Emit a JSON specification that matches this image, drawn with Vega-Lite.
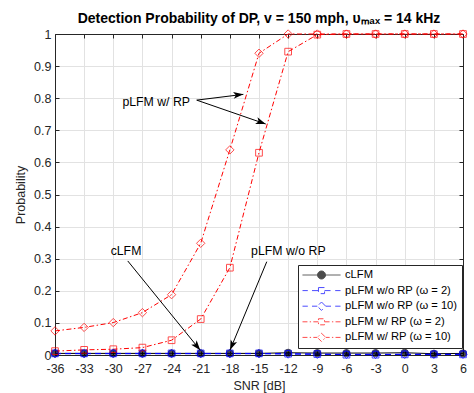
{
  "$schema": "https://vega.github.io/schema/vega-lite/v6.json",
  "width": 408,
  "height": 321,
  "autosize": {"type": "none"},
  "padding": {"left": 55, "top": 34, "right": 11, "bottom": 38},
  "background": "white",
  "title": {"text": "Detection Probability of DP, v = 150 mph, υₘₐₓ = 14 kHz", "font": "Liberation Sans", "fontSize": 14, "fontWeight": "bold", "color": "black", "offset": 2, "anchor": "middle", "frame": "group"},
  "config": {
    "view": {"stroke": null},
    "font": "Liberation Sans"
  },
  "datasets": {
    "curves": [
      {"snr": -36, "p": 0.005, "series": "cLFM"}, {"snr": -33, "p": 0.005, "series": "cLFM"}, {"snr": -30, "p": 0.005, "series": "cLFM"}, {"snr": -27, "p": 0.005, "series": "cLFM"}, {"snr": -24, "p": 0.005, "series": "cLFM"}, {"snr": -21, "p": 0.005, "series": "cLFM"}, {"snr": -18, "p": 0.005, "series": "cLFM"}, {"snr": -15, "p": 0.005, "series": "cLFM"}, {"snr": -12, "p": 0.007, "series": "cLFM"}, {"snr": -9, "p": 0.006, "series": "cLFM"}, {"snr": -6, "p": 0.006, "series": "cLFM"}, {"snr": -3, "p": 0.006, "series": "cLFM"}, {"snr": 0, "p": 0.007, "series": "cLFM"}, {"snr": 3, "p": 0.004, "series": "cLFM"}, {"snr": 6, "p": 0.005, "series": "cLFM"},
      {"snr": -36, "p": 0.005, "series": "pLFM w/o RP (ω = 2)"}, {"snr": -33, "p": 0.005, "series": "pLFM w/o RP (ω = 2)"}, {"snr": -30, "p": 0.005, "series": "pLFM w/o RP (ω = 2)"}, {"snr": -27, "p": 0.005, "series": "pLFM w/o RP (ω = 2)"}, {"snr": -24, "p": 0.005, "series": "pLFM w/o RP (ω = 2)"}, {"snr": -21, "p": 0.005, "series": "pLFM w/o RP (ω = 2)"}, {"snr": -18, "p": 0.005, "series": "pLFM w/o RP (ω = 2)"}, {"snr": -15, "p": 0.005, "series": "pLFM w/o RP (ω = 2)"}, {"snr": -12, "p": 0.004, "series": "pLFM w/o RP (ω = 2)"}, {"snr": -9, "p": 0.003, "series": "pLFM w/o RP (ω = 2)"}, {"snr": -6, "p": 0.001, "series": "pLFM w/o RP (ω = 2)"}, {"snr": -3, "p": 0.001, "series": "pLFM w/o RP (ω = 2)"}, {"snr": 0, "p": 0.002, "series": "pLFM w/o RP (ω = 2)"}, {"snr": 3, "p": 0.002, "series": "pLFM w/o RP (ω = 2)"}, {"snr": 6, "p": 0.002, "series": "pLFM w/o RP (ω = 2)"},
      {"snr": -36, "p": 0.004, "series": "pLFM w/o RP (ω = 10)"}, {"snr": -33, "p": 0.004, "series": "pLFM w/o RP (ω = 10)"}, {"snr": -30, "p": 0.004, "series": "pLFM w/o RP (ω = 10)"}, {"snr": -27, "p": 0.004, "series": "pLFM w/o RP (ω = 10)"}, {"snr": -24, "p": 0.004, "series": "pLFM w/o RP (ω = 10)"}, {"snr": -21, "p": 0.004, "series": "pLFM w/o RP (ω = 10)"}, {"snr": -18, "p": 0.004, "series": "pLFM w/o RP (ω = 10)"}, {"snr": -15, "p": 0.004, "series": "pLFM w/o RP (ω = 10)"}, {"snr": -12, "p": 0.003, "series": "pLFM w/o RP (ω = 10)"}, {"snr": -9, "p": 0.002, "series": "pLFM w/o RP (ω = 10)"}, {"snr": -6, "p": 0.002, "series": "pLFM w/o RP (ω = 10)"}, {"snr": -3, "p": 0.002, "series": "pLFM w/o RP (ω = 10)"}, {"snr": 0, "p": 0.002, "series": "pLFM w/o RP (ω = 10)"}, {"snr": 3, "p": 0.002, "series": "pLFM w/o RP (ω = 10)"}, {"snr": 6, "p": 0.002, "series": "pLFM w/o RP (ω = 10)"},
      {"snr": -36, "p": 0.012, "series": "pLFM w/ RP (ω = 2)"}, {"snr": -33, "p": 0.016, "series": "pLFM w/ RP (ω = 2)"}, {"snr": -30, "p": 0.018, "series": "pLFM w/ RP (ω = 2)"}, {"snr": -27, "p": 0.023, "series": "pLFM w/ RP (ω = 2)"}, {"snr": -24, "p": 0.046, "series": "pLFM w/ RP (ω = 2)"}, {"snr": -21, "p": 0.112, "series": "pLFM w/ RP (ω = 2)"}, {"snr": -18, "p": 0.272, "series": "pLFM w/ RP (ω = 2)"}, {"snr": -15, "p": 0.63, "series": "pLFM w/ RP (ω = 2)"}, {"snr": -12, "p": 0.945, "series": "pLFM w/ RP (ω = 2)"}, {"snr": -9, "p": 0.998, "series": "pLFM w/ RP (ω = 2)"}, {"snr": -6, "p": 1, "series": "pLFM w/ RP (ω = 2)"}, {"snr": -3, "p": 1, "series": "pLFM w/ RP (ω = 2)"}, {"snr": 0, "p": 1, "series": "pLFM w/ RP (ω = 2)"}, {"snr": 3, "p": 1, "series": "pLFM w/ RP (ω = 2)"}, {"snr": 6, "p": 1, "series": "pLFM w/ RP (ω = 2)"},
      {"snr": -36, "p": 0.075, "series": "pLFM w/ RP (ω = 10)"}, {"snr": -33, "p": 0.086, "series": "pLFM w/ RP (ω = 10)"}, {"snr": -30, "p": 0.101, "series": "pLFM w/ RP (ω = 10)"}, {"snr": -27, "p": 0.132, "series": "pLFM w/ RP (ω = 10)"}, {"snr": -24, "p": 0.188, "series": "pLFM w/ RP (ω = 10)"}, {"snr": -21, "p": 0.348, "series": "pLFM w/ RP (ω = 10)"}, {"snr": -18, "p": 0.639, "series": "pLFM w/ RP (ω = 10)"}, {"snr": -15, "p": 0.94, "series": "pLFM w/ RP (ω = 10)"}, {"snr": -12, "p": 1, "series": "pLFM w/ RP (ω = 10)"}, {"snr": -9, "p": 1, "series": "pLFM w/ RP (ω = 10)"}, {"snr": -6, "p": 1, "series": "pLFM w/ RP (ω = 10)"}, {"snr": -3, "p": 1, "series": "pLFM w/ RP (ω = 10)"}, {"snr": 0, "p": 1, "series": "pLFM w/ RP (ω = 10)"}, {"snr": 3, "p": 1, "series": "pLFM w/ RP (ω = 10)"}, {"snr": 6, "p": 1, "series": "pLFM w/ RP (ω = 10)"}
    ],
    "arrows": [
      {"id": "a1", "x1": -21.41, "y1": 0.794, "x2": -16.61, "y2": 0.812},
      {"id": "a2", "x1": -21.41, "y1": 0.794, "x2": -14.31, "y2": 0.7196},
      {"id": "a3", "x1": -28.51, "y1": 0.293, "x2": -21.05, "y2": 0.015},
      {"id": "a4", "x1": -14.2, "y1": 0.2907, "x2": -17.98, "y2": 0.0156}
    ],
    "notes": [
      {"tx": -25.58, "ty": 0.788, "label": "pLFM w/ RP"},
      {"tx": -28.69, "ty": 0.324, "label": "cLFM"},
      {"tx": -11.98, "ty": 0.324, "label": "pLFM w/o RP"}
    ]
  },
  "layer": [
    {
      "data": {"name": "curves"},
      "mark": {"type": "line", "strokeWidth": 1},
      "encoding": {
        "x": {"field": "snr", "type": "quantitative", "scale": {"domain": [-36, 6], "nice": false, "zero": false},
          "axis": {"orient": "bottom", "values": [-36, -33, -30, -27, -24, -21, -18, -15, -12, -9, -6, -3, 0, 3, 6], "labelExpr": "'' + datum.value", "title": "SNR [dB]", "titleFont": "Liberation Sans", "titleFontSize": 12.5, "titleFontWeight": "normal", "titleColor": "#262626", "titlePadding": 5, "labelFont": "Liberation Sans", "labelFontSize": 12.5, "labelColor": "#262626", "labelPadding": 11, "labelFlush": false, "labelOverlap": false, "grid": true, "gridColor": "#e2e2e2", "gridWidth": 1, "domainColor": "#262626", "domainWidth": 1, "tickColor": "#262626", "tickSize": -4, "tickWidth": 1}},
        "y": {"field": "p", "type": "quantitative", "scale": {"domain": [0, 1], "nice": false, "zero": false},
          "axis": {"orient": "left", "values": [0, 0.1, 0.2, 0.3, 0.4, 0.5, 0.6, 0.7, 0.8, 0.9, 1], "labelExpr": "'' + datum.value", "title": "Probability", "titleFont": "Liberation Sans", "titleFontSize": 12.5, "titleFontWeight": "normal", "titleColor": "#262626", "titlePadding": 6, "labelFont": "Liberation Sans", "labelFontSize": 12.5, "labelColor": "#262626", "labelPadding": 8, "labelFlush": false, "labelOverlap": false, "grid": true, "gridColor": "#e2e2e2", "gridWidth": 1, "domainColor": "#262626", "domainWidth": 1, "tickColor": "#262626", "tickSize": -4, "tickWidth": 1}},
        "stroke": {"field": "series", "type": "nominal",
          "legend": {"orient": "none", "legendX": 243, "legendY": 231, "padding": 4, "symbolSize": 1444, "clipHeight": 12, "symbolStrokeWidth": 1, "symbolOpacity": 1, "labelFont": "Liberation Sans", "labelFontSize": 11.2, "labelColor": "black", "labelOffset": 4, "rowPadding": 3.6, "strokeColor": "#262626", "fillColor": "white", "cornerRadius": 0, "title": null, "labelLimit": 300},
          "scale": {"domain": ["cLFM", "pLFM w/o RP (ω = 2)", "pLFM w/o RP (ω = 10)", "pLFM w/ RP (ω = 2)", "pLFM w/ RP (ω = 10)"], "range": ["#000000", "#0000ff", "#0000ff", "#ff0000", "#ff0000"]}},
        "strokeDash": {"field": "series", "type": "nominal", "legend": null, "scale": {"domain": ["cLFM", "pLFM w/o RP (ω = 2)", "pLFM w/o RP (ω = 10)", "pLFM w/ RP (ω = 2)", "pLFM w/ RP (ω = 10)"], "range": [[1, 0], [6, 4], [6, 4], [5, 2.5, 1.5, 2.5], [5, 2.5, 1.5, 2.5]]}}
      }
    },
    {
      "data": {"name": "curves"},
      "transform": [{"filter": "datum.series === 'cLFM'"}],
      "mark": {"type": "point", "shape": "circle", "filled": true, "fill": "black", "size": 50, "strokeWidth": 1},
      "encoding": {
        "x": {"field": "snr", "type": "quantitative", "axis": {"orient": "top", "values": [-36, -33, -30, -27, -24, -21, -18, -15, -12, -9, -6, -3, 0, 3, 6], "labels": false, "title": null, "grid": false, "domainColor": "#262626", "domainWidth": 1, "tickColor": "#262626", "tickSize": -4, "tickWidth": 1}},
        "y": {"field": "p", "type": "quantitative", "axis": {"orient": "right", "values": [0, 0.1, 0.2, 0.3, 0.4, 0.5, 0.6, 0.7, 0.8, 0.9, 1], "labels": false, "title": null, "grid": false, "domainColor": "#262626", "domainWidth": 1, "tickColor": "#262626", "tickSize": -4, "tickWidth": 1}},
        "stroke": {"field": "series", "type": "nominal"}
      }
    },
    {
      "data": {"name": "curves"},
      "transform": [{"filter": "datum.series === 'pLFM w/o RP (ω = 2)' || datum.series === 'pLFM w/ RP (ω = 2)'"}],
      "mark": {"type": "point", "shape": "square", "filled": false, "size": 45, "strokeWidth": 1},
      "encoding": {
        "x": {"field": "snr", "type": "quantitative", "axis": null},
        "y": {"field": "p", "type": "quantitative", "axis": null},
        "stroke": {"field": "series", "type": "nominal"}
      }
    },
    {
      "data": {"name": "curves"},
      "transform": [{"filter": "datum.series === 'pLFM w/o RP (ω = 10)' || datum.series === 'pLFM w/ RP (ω = 10)'"}],
      "mark": {"type": "point", "shape": "diamond", "filled": false, "size": 70, "strokeWidth": 1},
      "encoding": {
        "x": {"field": "snr", "type": "quantitative", "axis": null},
        "y": {"field": "p", "type": "quantitative", "axis": null},
        "stroke": {"field": "series", "type": "nominal"}
      }
    },
    {
      "data": {"name": "curves"},
      "mark": {"type": "point", "size": 0, "strokeWidth": 1},
      "encoding": {
        "x": {"field": "snr", "type": "quantitative", "axis": null},
        "y": {"field": "p", "type": "quantitative", "axis": null},
        "stroke": {"field": "series", "type": "nominal"},
        "fill": {"field": "series", "type": "nominal",
          "legend": {"orient": "none", "legendX": 243, "legendY": 231, "padding": 4, "symbolSize": 1444, "clipHeight": 12, "symbolStrokeWidth": 1, "symbolOpacity": 1, "labelFont": "Liberation Sans", "labelFontSize": 11.2, "labelColor": "black", "labelOffset": 4, "rowPadding": 3.6, "strokeColor": "#262626", "fillColor": "white", "cornerRadius": 0, "title": null, "labelLimit": 300},
          "scale": {"domain": ["cLFM", "pLFM w/o RP (ω = 2)", "pLFM w/o RP (ω = 10)", "pLFM w/ RP (ω = 2)", "pLFM w/ RP (ω = 10)"], "range": ["#000000", "#ffffff", "#ffffff", "#ffffff", "#ffffff"]}},
        "shape": {"field": "series", "type": "nominal",
          "legend": {"orient": "none", "legendX": 243, "legendY": 231, "padding": 4, "symbolSize": 1444, "clipHeight": 12, "symbolStrokeWidth": 1, "symbolOpacity": 1, "labelFont": "Liberation Sans", "labelFontSize": 11.2, "labelColor": "black", "labelOffset": 4, "rowPadding": 3.6, "strokeColor": "#262626", "fillColor": "white", "cornerRadius": 0, "title": null, "labelLimit": 300},
          "scale": {"domain": ["cLFM", "pLFM w/o RP (ω = 2)", "pLFM w/o RP (ω = 10)", "pLFM w/ RP (ω = 2)", "pLFM w/ RP (ω = 10)"], "range": [
          "M-1,0H1M0.21,0A0.21,0.21,0,1,1,-0.21,0A0.21,0.21,0,1,1,0.21,0Z",
          "M-1,0H-0.72M-0.5,0H-0.16M0.16,0H0.5M0.72,0H1M-0.16,-0.16H0.16V0.16H-0.16Z",
          "M-1,0H-0.72M-0.5,0H-0.22M0.22,0H0.5M0.72,0H1M0,-0.22L0.22,0L0,0.22L-0.22,0Z",
          "M-1,0H-0.74M-0.62,0H-0.55M-0.43,0H-0.16M0.16,0H0.43M0.55,0H0.62M0.74,0H1M-0.16,-0.16H0.16V0.16H-0.16Z",
          "M-1,0H-0.74M-0.62,0H-0.55M-0.43,0H-0.22M0.22,0H0.43M0.55,0H0.62M0.74,0H1M0,-0.22L0.22,0L0,0.22L-0.22,0Z"
        ]}}
      }
    },
    {
      "data": {"name": "arrows"},
      "mark": {"type": "rule", "color": "black", "strokeWidth": 1},
      "encoding": {
        "x": {"field": "x1", "type": "quantitative", "axis": null},
        "y": {"field": "y1", "type": "quantitative", "axis": null},
        "x2": {"field": "x2"},
        "y2": {"field": "y2"}
      }
    },
    {
      "data": {"name": "arrows"},
      "transform": [{"filter": "datum.id === 'a1'"}],
      "mark": {"type": "point", "shape": "M0,0L-0.7,2L0,1.5L0.7,2Z", "size": 100, "filled": true, "color": "black", "opacity": 1, "angle": 84},
      "encoding": {"x": {"field": "x2", "type": "quantitative", "axis": null}, "y": {"field": "y2", "type": "quantitative", "axis": null}}
    },
    {
      "data": {"name": "arrows"},
      "transform": [{"filter": "datum.id === 'a2'"}],
      "mark": {"type": "point", "shape": "M0,0L-0.7,2L0,1.5L0.7,2Z", "size": 100, "filled": true, "color": "black", "opacity": 1, "angle": 109.7},
      "encoding": {"x": {"field": "x2", "type": "quantitative", "axis": null}, "y": {"field": "y2", "type": "quantitative", "axis": null}}
    },
    {
      "data": {"name": "arrows"},
      "transform": [{"filter": "datum.id === 'a3'"}],
      "mark": {"type": "point", "shape": "M0,0L-0.7,2L0,1.5L0.7,2Z", "size": 100, "filled": true, "color": "black", "opacity": 1, "angle": 140.9},
      "encoding": {"x": {"field": "x2", "type": "quantitative", "axis": null}, "y": {"field": "y2", "type": "quantitative", "axis": null}}
    },
    {
      "data": {"name": "arrows"},
      "transform": [{"filter": "datum.id === 'a4'"}],
      "mark": {"type": "point", "shape": "M0,0L-0.7,2L0,1.5L0.7,2Z", "size": 100, "filled": true, "color": "black", "opacity": 1, "angle": 202.6},
      "encoding": {"x": {"field": "x2", "type": "quantitative", "axis": null}, "y": {"field": "y2", "type": "quantitative", "axis": null}}
    },
    {
      "data": {"name": "notes"},
      "mark": {"type": "text", "font": "Liberation Sans", "fontSize": 12.3, "color": "black", "align": "center", "baseline": "middle"},
      "encoding": {
        "x": {"field": "tx", "type": "quantitative", "axis": null},
        "y": {"field": "ty", "type": "quantitative", "axis": null},
        "text": {"field": "label"}
      }
    }
  ]
}
